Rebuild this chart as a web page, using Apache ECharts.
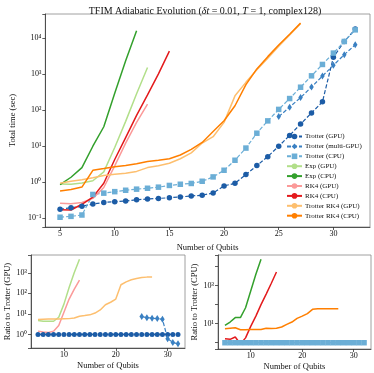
<!DOCTYPE html>
<html>
<head>
<meta charset="utf-8">
<script src="https://cdn.jsdelivr.net/npm/echarts@6/dist/echarts.min.js"></script>
<style>
  html, body { margin: 0; padding: 0; background: #fff; }
  #chart { width: 374px; height: 373px; }
</style>
</head>
<body>
<div id="chart"></div>
<script>
// qubit counts
const qubits = [5, 6, 7, 8, 9, 10, 11, 12, 13, 14, 15, 16, 17, 18, 19, 20,
                21, 22, 23, 24, 25, 26, 27, 28, 29, 30, 31, 32];
const multiGpuQubits = [25, 26, 27, 28, 29, 30, 31, 32];

// total time (sec), series start at 5 qubits unless noted
const trotterGpu = [0.174, 0.193, 0.211, 0.245, 0.27, 0.282, 0.297, 0.32, 0.337, 0.348,
                    0.366, 0.383, 0.408, 0.428, 0.495, 0.775, 0.92, 1.6, 2.84, 5.04,
                    9.8, 19.6, 40.5, 82, 167, 2880, 7900, 17500];
const trotterMultiGpu = [65, 119, 220, 430, 870, 1720, 3400, 6400];   // from 25 qubits
const trotterCpu = [0.105, 0.111, 0.121, 0.45, 0.489, 0.538, 0.588, 0.631, 0.668, 0.717,
                    0.8, 0.863, 0.908, 1.045, 1.38, 2.11, 4.0, 8.7, 22.5, 49.5,
                    103, 206, 425, 880, 1820, 3760, 7900, 16600];
const expGpu = [0.88, 0.86, 0.94, 1.08, 1.9, 9, 48, 280, 1500];
const expCpu = [0.84, 1.35, 2.5, 9.8, 34, 290, 2300, 15600];
const rk4Gpu = [0.255, 0.25, 0.27, 0.35, 0.7, 2.8, 12, 45, 145];
const rk4Cpu = [0.168, 0.167, 0.24, 0.38, 0.92, 4.2, 17, 70, 260, 1000, 4250];
const trotterRk4Gpu = [0.92, 1.04, 1.15, 1.3, 1.5, 1.64, 1.75, 1.96, 2.5, 2.8, 3.3, 4.4,
                       6.4, 12, 18, 45, 245, 580, 1300, 2700, 5800, 12000, 24800];
const trotterRk4Cpu = [0.56, 0.62, 0.72, 2.1, 2.35, 2.65, 2.85, 3.2, 3.7, 4.0, 4.4, 5.6,
                       8.0, 12.5, 25, 50, 130, 500, 1370, 3000, 6300, 12600, 25500];

// ratio to Trotter (GPU)
const ratioGpuTrotter = [1, 1, 1, 1, 1, 1, 1, 1, 1, 1, 1, 1, 1, 1,
                         1, 1, 1, 1, 1, 1, 1, 1, 1, 1, 1, 1, 1, 1];
const ratioGpuMulti = [7.4, 6.6, 6.2, 5.9, 5.5, 0.62, 0.41, 0.35];   // from 25 qubits
const ratioGpuExp = [4.8, 4.4, 4.4, 4.4, 6.9, 30, 195, 1040, 4600];
const ratioGpuRk4 = [1.45, 1.3, 1.25, 1.45, 2.7, 12, 53, 162, 445];
const ratioGpuTrotterRk4 = [5.3, 5.5, 5.6, 5.6, 5.7, 5.8, 5.9, 6.3, 7.7, 8.3, 9, 11,
                            15.6, 28, 37, 53, 263, 365, 460, 535, 590, 620, 620];

// ratio to Trotter (CPU)
const ratioCpuTrotter = [1, 1, 1, 1, 1, 1, 1, 1, 1, 1, 1, 1, 1, 1,
                         1, 1, 1, 1, 1, 1, 1, 1, 1, 1, 1, 1, 1, 1];
const ratioCpuExp = [8.2, 12.2, 21, 21, 69, 520, 4000, 24500];
const ratioCpuRk4 = [1.6, 1.5, 2.0, 0.85, 1.8, 7.2, 25, 100, 360, 1330, 5200];
const ratioCpuTrotterRk4 = [5.5, 5.8, 6.1, 4.8, 4.8, 5.0, 5.0, 5.0, 5.7, 5.6, 5.7, 6.7,
                            9.2, 12.2, 19, 25, 34, 57, 61, 61, 61, 61, 61];

const names = ['Trotter (GPU)', 'Trotter (multi-GPU)', 'Trotter (CPU)', 'Exp (GPU)', 'Exp (CPU)',
               'RK4 (GPU)', 'RK4 (CPU)', 'Trotter RK4 (GPU)', 'Trotter RK4 (CPU)'];

const FONT = 'Liberation Serif';
const C = {
    gpu: '#1c5ca6', multi: '#3a80c2', cpu: '#6baed6',
    expGpu: '#b2df8a', expCpu: '#33a02c',
    rk4Gpu: '#fb9a99', rk4Cpu: '#e31a1c',
    trk4Gpu: '#fdbf6f', trk4Cpu: '#ff7f00'
};

const SUP = {'-': '⁻', '0': '⁰', '1': '¹', '2': '²', '3': '³', '4': '⁴', '5': '⁵'};
function logLabel(oddOnly) {
    return function (v) {
        const e = Math.log10(v);
        const r = Math.round(e);
        if (Math.abs(e - r) > 1e-6) return '';
        if (oddOnly && r % 2 === 0) return '';
        return '10' + String(r).split('').map(c => SUP[c]).join('');
    };
}

function pairs(qs, vals) {
    return vals.map((v, i) => [qs[i], v]);
}

function markerLine(name, color, symbol, size, idx, qs, vals) {
    return {
        name: name, type: 'line', xAxisIndex: idx, yAxisIndex: idx,
        data: pairs(qs, vals),
        symbol: symbol, symbolSize: size, showSymbol: true,
        itemStyle: {color: color},
        lineStyle: {color: color, width: 1.2, type: [4, 2]},
        emphasis: {disabled: true}
    };
}

function plainLine(name, color, idx, qs, vals) {
    return {
        name: name, type: 'line', xAxisIndex: idx, yAxisIndex: idx,
        data: pairs(qs, vals),
        symbol: 'none',
        itemStyle: {color: color},
        lineStyle: {color: color, width: 1.5},
        emphasis: {disabled: true}
    };
}

const tickText = {fontFamily: FONT, fontSize: 8, color: '#111'};

function xAxis(idx, split) {
    return {
        type: 'value', gridIndex: idx, min: 3.65, max: 33.35, splitNumber: split,
        name: 'Number of Qubits', nameLocation: 'middle', nameGap: 13,
        nameTextStyle: {fontFamily: FONT, fontSize: 8.5, color: '#111'},
        axisLine: {lineStyle: {color: '#333', width: 0.8}},
        axisTick: {length: 3, lineStyle: {color: '#333', width: 0.8}},
        axisLabel: Object.assign({margin: 3, showMinLabel: false, showMaxLabel: false,
            formatter: v => (v % (split === 3 ? 10 : 5) === 0 ? String(v) : '')}, tickText),
        splitLine: {show: false}
    };
}

function yAxis(idx, name, lo, hi, gap, oddOnly) {
    return {
        type: 'log', gridIndex: idx, min: Math.pow(10, lo), max: Math.pow(10, hi),
        name: name, nameLocation: 'middle', nameGap: gap,
        nameTextStyle: {fontFamily: FONT, fontSize: 8.5, color: '#111'},
        axisLine: {show: true, lineStyle: {color: '#333', width: 0.8}},
        axisTick: {length: 3, lineStyle: {color: '#333', width: 0.8}},
        axisLabel: Object.assign({margin: 4, formatter: logLabel(oddOnly)}, tickText),
        splitLine: {show: false}
    };
}

const gridStyle = {show: true, borderColor: '#888', borderWidth: 0.8, backgroundColor: '#fff'};

const option = {
    animation: false,
    backgroundColor: '#fff',
    title: {
        text: '{n|TFIM Adiabatic Evolution (}{i|δt}{n| = 0.01, }{i|T}{n| = 1, complex128)}',
        left: 200, top: 1, textAlign: 'center',
        textStyle: {
            fontWeight: 'normal',
            rich: {
                n: {fontFamily: FONT, fontSize: 10, fontWeight: 'normal', color: '#111'},
                i: {fontFamily: FONT, fontSize: 10, fontWeight: 'normal', fontStyle: 'italic', color: '#111'}
            }
        }
    },
    legend: {
        data: names, orient: 'vertical', left: 286, top: 133, padding: 0,
        itemWidth: 15, itemHeight: 7, itemGap: 2.9,
        textStyle: {fontFamily: FONT, fontSize: 7, color: '#111', padding: [0, 0, 0, -2]},
        selectedMode: false
    },
    grid: [
        Object.assign({left: 31, top: 14, right: 4, bottom: 146}, gridStyle),
        Object.assign({left: 31, top: 255, width: 154, height: 93}, gridStyle),
        Object.assign({left: 218, top: 255, width: 153, height: 94}, gridStyle)
    ],
    xAxis: [xAxis(0, 6), xAxis(1, 3), xAxis(2, 3)],
    yAxis: [
        yAxis(0, 'Total time (sec)', -1.25, 4.66, 18, false),
        yAxis(1, 'Ratio to Trotter (GPU)', -0.66, 3.87, 15, false),
        yAxis(2, 'Ratio to Trotter (CPU)', -0.33, 4.61, 17, true)
    ],
    series: [
        markerLine(names[0], C.gpu, 'circle', 5.5, 0, qubits, trotterGpu),
        markerLine(names[1], C.multi, 'diamond', [4.5, 7], 0, multiGpuQubits, trotterMultiGpu),
        markerLine(names[2], C.cpu, 'rect', 5.5, 0, qubits, trotterCpu),
        plainLine(names[3], C.expGpu, 0, qubits, expGpu),
        plainLine(names[4], C.expCpu, 0, qubits, expCpu),
        plainLine(names[5], C.rk4Gpu, 0, qubits, rk4Gpu),
        plainLine(names[6], C.rk4Cpu, 0, qubits, rk4Cpu),
        plainLine(names[7], C.trk4Gpu, 0, qubits, trotterRk4Gpu),
        plainLine(names[8], C.trk4Cpu, 0, qubits, trotterRk4Cpu),

        markerLine(names[0], C.gpu, 'circle', 5, 1, qubits, ratioGpuTrotter),
        markerLine(names[1], C.multi, 'diamond', [4.5, 7], 1, multiGpuQubits, ratioGpuMulti),
        plainLine(names[3], C.expGpu, 1, qubits, ratioGpuExp),
        plainLine(names[5], C.rk4Gpu, 1, qubits, ratioGpuRk4),
        plainLine(names[7], C.trk4Gpu, 1, qubits, ratioGpuTrotterRk4),

        markerLine(names[2], C.cpu, 'rect', 5.5, 2, qubits, ratioCpuTrotter),
        plainLine(names[4], C.expCpu, 2, qubits, ratioCpuExp),
        plainLine(names[6], C.rk4Cpu, 2, qubits, ratioCpuRk4),
        plainLine(names[8], C.trk4Cpu, 2, qubits, ratioCpuTrotterRk4)
    ]
};

echarts.init(document.getElementById('chart')).setOption(option);
</script>
</body>
</html>
